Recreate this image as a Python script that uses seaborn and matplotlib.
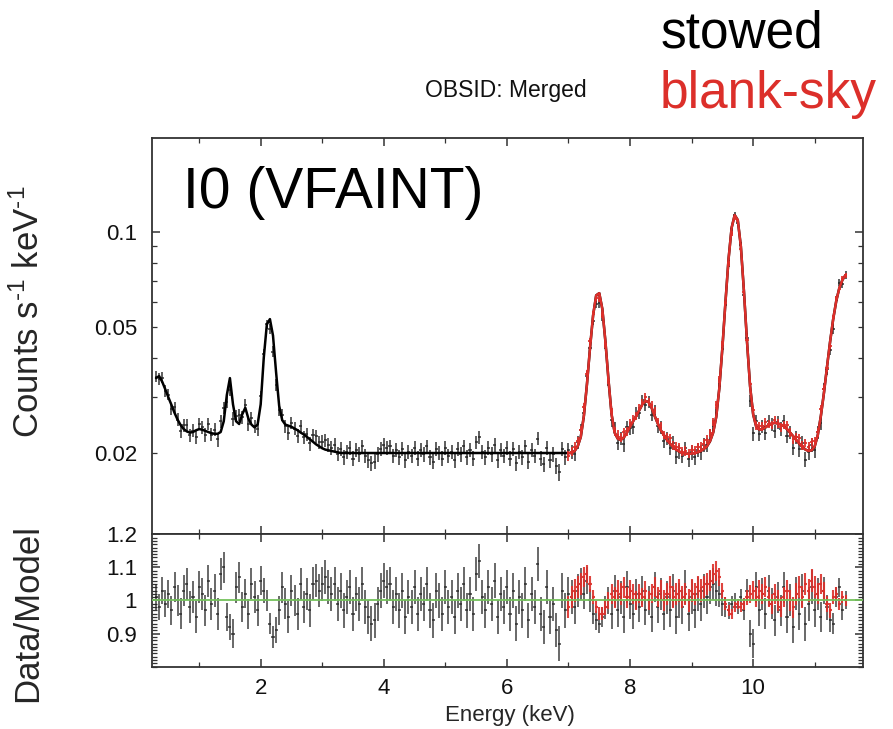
import numpy as np
import pandas as pd
import matplotlib
matplotlib.use("Agg")
import matplotlib.pyplot as plt
import seaborn as sns
from matplotlib.ticker import MultipleLocator, FixedLocator, FixedFormatter

# ---------------- data ----------------
energy_start_keV = 0.30
energy_bin_keV = 0.05
blank_start_keV = 7.00

# model (counts/s/keV) of the stowed spectrum, one value per 0.05 keV bin from 0.30 keV
model_stowed = [
    # 0.30 - 3.25
    0.0345, 0.0350, 0.0336, 0.0318, 0.0300, 0.0284, 0.0268, 0.0255, 0.0245, 0.0238,
    0.0234, 0.0232, 0.0233, 0.0236, 0.0238, 0.0237, 0.0235, 0.0233, 0.0231, 0.0230,
    0.0230, 0.0233, 0.0252, 0.0305, 0.0345, 0.0285, 0.0252, 0.0247, 0.0265, 0.0278,
    0.0257, 0.0246, 0.0241, 0.0246, 0.0285, 0.0400, 0.0510, 0.0530, 0.0470, 0.0360,
    0.0282, 0.0254, 0.0246, 0.0244, 0.0242, 0.0239, 0.0236, 0.0232, 0.0229, 0.0225,
    0.0221, 0.0217, 0.0213, 0.0210, 0.0207, 0.0205, 0.0204, 0.0203, 0.0202, 0.0201,
    # 3.30 - 7.00
    0.0200, 0.0200, 0.0200, 0.0200, 0.0200, 0.0200, 0.0200, 0.0200, 0.0200, 0.0200,
    0.0200, 0.0200, 0.0200, 0.0200, 0.0200, 0.0200, 0.0200, 0.0200, 0.0200, 0.0200,
    0.0200, 0.0200, 0.0200, 0.0200, 0.0200, 0.0200, 0.0200, 0.0200, 0.0200, 0.0200,
    0.0200, 0.0200, 0.0200, 0.0200, 0.0200, 0.0200, 0.0200, 0.0200, 0.0200, 0.0200,
    0.0200, 0.0200, 0.0200, 0.0200, 0.0200, 0.0200, 0.0200, 0.0200, 0.0200, 0.0200,
    0.0200, 0.0200, 0.0200, 0.0200, 0.0200, 0.0200, 0.0200, 0.0200, 0.0200, 0.0200,
    0.0200, 0.0200, 0.0200, 0.0200, 0.0200, 0.0200, 0.0200, 0.0200, 0.0200, 0.0200,
    0.0200, 0.0200, 0.0200, 0.0200, 0.0200,
    # 7.05 - 11.50
    0.0200, 0.0203, 0.0210, 0.0225, 0.0262, 0.0330, 0.0430, 0.0545, 0.0630, 0.0640,
    0.0570, 0.0450, 0.0340, 0.0265, 0.0232, 0.0222, 0.0220, 0.0224, 0.0232, 0.0242,
    0.0252, 0.0262, 0.0273, 0.0285, 0.0292, 0.0290, 0.0278, 0.0262, 0.0248, 0.0236,
    0.0228, 0.0220, 0.0214, 0.0209, 0.0205, 0.0202, 0.0200, 0.0199, 0.0199, 0.0199,
    0.0200, 0.0201, 0.0203, 0.0206, 0.0210, 0.0218, 0.0232, 0.0260, 0.0320, 0.0430,
    0.0600, 0.0820, 0.1030, 0.1130, 0.1090, 0.0900, 0.0650, 0.0450, 0.0325, 0.0265,
    0.0242, 0.0237, 0.0238, 0.0241, 0.0245, 0.0248, 0.0249, 0.0248, 0.0246, 0.0243,
    0.0238, 0.0232, 0.0226, 0.0220, 0.0214, 0.0209, 0.0205, 0.0203, 0.0204, 0.0210,
    0.0228, 0.0262, 0.0310, 0.0375, 0.0450, 0.0530, 0.0605, 0.0665, 0.0705, 0.0730,
]

# data/model ratio of the stowed spectrum (same bins)
ratio_stowed = [
    # 0.30 - 3.25
    1.01, 0.98, 1.03, 0.99, 1.02, 0.97, 1.04, 1.00, 0.96, 1.03,
    1.05, 0.98, 1.01, 0.95, 1.04, 1.02, 0.97, 1.06, 0.99, 1.03,
    0.96, 1.08, 1.10, 0.95, 0.92, 0.90, 1.04, 1.07, 0.98, 1.02,
    0.96, 1.05, 1.01, 0.97, 1.06, 1.03, 1.00, 0.93, 0.89, 0.91,
    0.97, 1.04, 0.99, 0.95, 1.03, 1.00, 0.96, 1.05, 0.98, 1.02,
    0.97, 1.05, 1.06, 1.03, 1.05, 1.07, 1.04, 1.02, 1.05, 0.99,
    # 3.30 - 7.00
    1.03, 0.97, 1.01, 1.04, 0.96, 1.02, 0.99, 1.05, 0.98, 0.95,
    0.93, 0.94, 0.99, 1.03, 1.06, 1.04, 1.05, 0.98, 1.02, 0.97,
    1.03, 0.95, 1.01, 0.98, 1.04, 0.96, 1.02, 0.99, 1.05, 0.97,
    0.94, 1.03, 1.00, 0.96, 1.04, 0.98, 1.01, 0.95, 1.03, 0.99,
    1.05, 0.97, 1.02, 0.96, 1.08, 1.12, 1.01, 0.97, 1.04, 0.99,
    1.06, 0.95, 1.02, 0.98, 1.04, 0.96, 1.03, 0.93, 1.01, 0.97,
    1.05, 0.94, 1.02, 0.98, 1.11, 0.96, 0.92, 1.04, 0.95, 0.99,
    0.91, 0.87, 1.03, 0.97, 1.02,
    # 7.05 - 11.50
    1.01, 0.98, 1.03, 1.05, 1.02, 1.06, 1.00, 0.96, 0.94, 0.93,
    0.95, 0.98, 1.00, 0.96, 1.03, 0.97, 1.01, 0.95, 1.04, 0.99,
    0.96, 1.02, 0.98, 1.03, 0.97, 1.00, 0.95, 1.04, 0.98, 1.02,
    0.96, 1.01, 0.97, 1.03, 0.95, 1.00, 0.98, 1.04, 0.96, 1.01,
    0.97, 1.02, 0.99, 1.03, 1.01, 1.04, 1.05, 1.03, 1.02, 0.99,
    0.98, 0.97, 0.99, 1.00, 0.98, 1.01, 0.97, 1.03, 0.90, 0.87,
    1.04, 0.97, 1.02, 0.96, 1.03, 0.99, 0.94, 1.01, 0.97, 1.04,
    0.95, 1.00, 0.92, 1.02, 0.96, 1.03, 0.93, 0.99, 1.04, 0.97,
    1.02, 0.95, 1.03, 0.98, 0.94, 0.93, 1.01, 1.04, 0.97, 1.00,
]

# data/model ratio of the blank-sky spectrum, bins from 7.00 keV
ratio_blank = [
    0.98, 1.01, 1.03, 1.04, 1.05, 1.07, 1.08, 1.05, 1.01, 0.98,
    0.96, 0.96, 0.98, 1.00, 1.02, 1.01, 1.03, 1.02, 1.04, 1.01,
    1.03, 1.02, 1.00, 1.02, 1.01, 1.03, 1.00, 1.02, 1.04, 1.01,
    1.03, 1.00, 1.02, 1.04, 1.01, 1.02, 1.03, 1.01, 1.02, 1.00,
    1.03, 1.02, 1.04, 1.03, 1.04, 1.05, 1.06, 1.08, 1.09, 1.07,
    1.03, 0.99, 0.97, 0.96, 0.98, 0.99, 0.98, 0.99, 1.01, 1.02,
    1.03, 1.01, 1.03, 1.02, 1.04, 1.01, 0.99, 1.02, 1.00, 0.98,
    1.01, 1.03, 1.00, 0.98, 1.02, 1.04, 1.01, 1.05, 1.03, 1.06,
    1.04, 1.02, 1.05, 1.03, 0.99, 0.97, 1.01, 1.02, 0.99, 1.01,
    1.00,
]

ratio_reference = 1.0
x_limits = (0.24, 11.79)
y_limits_top = (0.01107, 0.198)
y_limits_ratio = (0.8, 1.2)

# ---------------- derived frames ----------------
n = len(model_stowed)
assert len(ratio_stowed) == n, len(ratio_stowed)
energy = np.round(energy_start_keV + energy_bin_keV * np.arange(n), 2)
model = np.array(model_stowed)
rel_err_black = 0.052 * np.sqrt(0.02 / model)

stowed = pd.DataFrame({"energy": energy, "model": model,
                       "ratio": ratio_stowed})
stowed["rate"] = stowed["model"] * stowed["ratio"]
stowed["err"] = stowed["model"] * rel_err_black
stowed["rerr"] = rel_err_black

blank = stowed.loc[stowed["energy"] >= blank_start_keV - 1e-9,
                   ["energy", "model"]].reset_index(drop=True)
assert len(ratio_blank) == len(blank), len(ratio_blank)
blank["ratio"] = ratio_blank
blank["rerr"] = 0.034 * np.sqrt(0.02 / blank["model"])
blank["rate"] = blank["model"] * blank["ratio"]
blank["err"] = blank["model"] * blank["rerr"]

# ---------------- style ----------------
sns.set_style("ticks")
plt.rcParams["font.family"] = ["Liberation Sans", "DejaVu Sans"]
plt.rcParams["mathtext.fontset"] = "custom"
plt.rcParams["mathtext.rm"] = "Liberation Sans"
plt.rcParams["mathtext.it"] = "Liberation Sans:italic"
plt.rcParams["mathtext.bf"] = "Liberation Sans:bold"

RED = "#dc2f2a"
BLACK_ERR = "#222222"
GREEN = "#74c25c"
SPINE = "#333333"

fig = plt.figure(figsize=(8.93, 7.29), dpi=100)
ax = fig.add_axes([0.1706, 0.2671, 0.7962, 0.5436])
axr = fig.add_axes([0.1706, 0.0855, 0.7962, 0.1816], sharex=ax)

# ---- top panel ----
ax.errorbar(stowed["energy"], stowed["rate"], yerr=stowed["err"],
            xerr=energy_bin_keV / 2, fmt="none", ecolor=BLACK_ERR,
            elinewidth=1.2, alpha=0.85, zorder=2)
sns.lineplot(data=stowed, x="energy", y="model", ax=ax, color="black",
             lw=1.8, estimator=None, sort=False, zorder=3)
ax.errorbar(blank["energy"], blank["rate"], yerr=blank["err"],
            xerr=energy_bin_keV / 2, fmt="none", ecolor=RED,
            elinewidth=1.4, alpha=0.9, zorder=4)
sns.lineplot(data=blank, x="energy", y="model", ax=ax, color=RED,
             lw=1.8, estimator=None, sort=False, zorder=5)

ax.set_yscale("log")
ax.set_xlim(*x_limits)
ax.set_ylim(*y_limits_top)
ax.yaxis.set_major_locator(FixedLocator([0.1]))
ax.yaxis.set_major_formatter(FixedFormatter(["0.1"]))
minor_vals = [0.02, 0.03, 0.04, 0.05, 0.06, 0.07, 0.08, 0.09]
ax.yaxis.set_minor_locator(FixedLocator(minor_vals))
ax.yaxis.set_minor_formatter(FixedFormatter(["0.02", "", "", "0.05", "", "", "", ""]))
ax.xaxis.set_major_locator(MultipleLocator(2))
ax.xaxis.set_minor_locator(MultipleLocator(1))
ax.set_xlabel("")
ax.set_ylabel("")
ax.tick_params(axis="x", labelbottom=False)

# ---- ratio panel ----
axr.errorbar(stowed["energy"], stowed["ratio"], yerr=stowed["rerr"],
             xerr=energy_bin_keV / 2, fmt="none", ecolor=BLACK_ERR,
             elinewidth=1.2, alpha=0.8, zorder=2)
axr.errorbar(blank["energy"], blank["ratio"], yerr=blank["rerr"],
             xerr=energy_bin_keV / 2, fmt="none", ecolor=RED,
             elinewidth=1.5, alpha=0.9, zorder=3)
axr.axhline(ratio_reference, color=GREEN, lw=1.3, zorder=5)
axr.set_ylim(*y_limits_ratio)
axr.yaxis.set_major_locator(FixedLocator([0.9, 1.0, 1.1, 1.2]))
axr.yaxis.set_major_formatter(FixedFormatter(["0.9", "1", "1.1", "1.2"]))
axr.yaxis.set_minor_locator(MultipleLocator(0.01))
axr.xaxis.set_major_locator(MultipleLocator(2))
axr.xaxis.set_minor_locator(MultipleLocator(1))
axr.set_xlabel("")
axr.set_ylabel("")

for a in (ax, axr):
    for s in a.spines.values():
        s.set_linewidth(1.3)
        s.set_color(SPINE)
    a.tick_params(which="both", direction="in", top=True, right=True,
                  color=SPINE, labelsize=16, labelcolor="#111111")
    a.tick_params(which="major", length=6, width=1.1)
    a.tick_params(which="minor", length=3.5, width=0.9)
    a.tick_params(axis="y", which="both", pad=11)
    a.tick_params(axis="x", which="both", pad=8)

# ---- texts ----
fig.text(183 / 893, 1 - 208 / 729, "I0 (VFAINT)", fontsize=41,
         ha="left", va="baseline", color="black")
fig.text(425 / 893, 1 - 97 / 729, "OBSID: Merged", fontsize=16.5,
         ha="left", va="baseline", color="#111111")
fig.text(661 / 893, 1 - 47 / 729, "stowed", fontsize=37,
         ha="left", va="baseline", color="black")
fig.text(660 / 893, 1 - 108 / 729, "blank-sky", fontsize=37,
         ha="left", va="baseline", color=RED)
fig.text(28.5 / 893, 1 - 312 / 729, r"Counts s$^{\text{-1}}$ keV$^{\text{-1}}$",
         fontsize=25, rotation=90, ha="center", va="center")
fig.text(28 / 893, 1 - 613 / 729, "Data/Model", fontsize=25,
         rotation=90, ha="center", va="center")
fig.text(510 / 893, 1 - 715 / 729, "Energy (keV)", fontsize=16,
         ha="center", va="center")

fig.savefig("out.png", dpi=100)
